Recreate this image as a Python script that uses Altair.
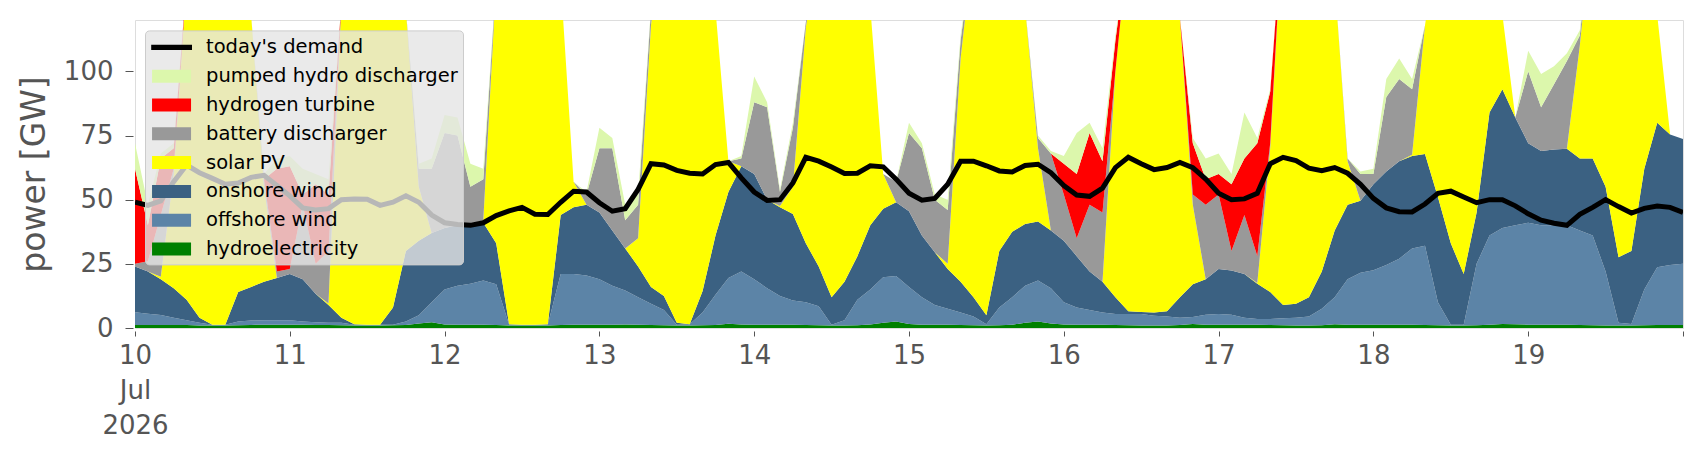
import altair as alt
import pandas as pd

# 2-hourly values, Jul 10 00:00 ... Jul 20 00:00 (121 points), GW
hydro = [
    1.2, 1.2, 1.2, 1.2, 1.2, 1.0, 1.0, 1.0, 1.1, 1.2, 1.3, 1.3,
    1.3, 1.3, 1.2, 1.2, 1.1, 1.0, 1.0, 1.0, 1.1, 1.2, 1.8, 2.2,
    1.4, 1.3, 1.3, 1.3, 1.2, 1.0, 1.0, 1.0, 1.0, 1.2, 1.3, 1.3,
    1.3, 1.3, 1.4, 1.3, 1.2, 1.1, 1.0, 1.0, 1.1, 1.2, 1.7, 1.4,
    1.3, 1.3, 1.3, 1.3, 1.2, 1.1, 1.0, 1.0, 1.1, 1.4, 2.0, 2.5,
    1.6, 1.3, 1.3, 1.3, 1.2, 1.1, 1.0, 1.1, 1.3, 2.0, 2.5, 1.8,
    1.4, 1.3, 1.3, 1.3, 1.2, 1.1, 1.0, 1.0, 1.0, 1.2, 1.6, 1.3,
    1.3, 1.3, 1.3, 1.3, 1.2, 1.1, 1.0, 1.0, 1.1, 1.5, 1.3, 1.3,
    1.3, 1.3, 1.3, 1.3, 1.2, 1.1, 1.0, 1.0, 1.1, 1.3, 1.6, 1.5,
    1.3, 1.3, 1.3, 1.3, 1.2, 1.1, 1.0, 1.0, 1.0, 1.1, 1.2, 1.2,
    1.2,
]
offshore = [
    4.9, 4.4, 3.9, 2.8, 1.8, 1.0, 0.3, 0.3, 1.4, 1.7, 1.7, 1.7,
    1.7, 1.2, 1.0, 0.8, 0.9, 0.3, 0.3, 0.3, 0.2, 1.3, 3.2, 7.8,
    13.6, 15.2, 15.9, 17.2, 15.8, 0.3, 0.3, 0.3, 0.3, 19.8, 19.7, 19.2,
    17.7, 15.2, 13.2, 10.7, 8.2, 5.9, 0.3, 0.5, 4.9, 11.8, 17.8, 20.6,
    17.7, 14.2, 11.2, 9.4, 8.8, 7.4, 0.3, 2.0, 9.9, 13.6, 17.8, 17.8,
    14.4, 10.7, 7.7, 6.2, 4.8, 3.4, 0.5, 6.9, 10.7, 14.5, 16.0, 13.7,
    8.6, 6.7, 5.7, 4.7, 4.3, 4.4, 4.5, 3.8, 3.5, 2.8, 2.7, 3.9,
    4.2, 3.9, 2.7, 2.2, 2.3, 2.7, 3.0, 3.5, 6.4, 10.5, 17.7, 20.2,
    21.2, 23.2, 25.7, 29.7, 30.8, 8.9, 0.3, 0.3, 23.9, 34.7, 37.4, 38.5,
    39.7, 38.7, 38.7, 38.7, 36.8, 34.9, 21.0, 1.0, 0.6, 13.9, 22.5, 23.3,
    23.8,
]
onshore = [
    17.9, 16.4, 13.9, 11.5, 8.0, 2.0, 0.0, 0.0, 11.5, 13.1, 15.0, 16.5,
    18.0, 16.5, 11.1, 7.0, 2.0, 0.2, 0.0, 0.0, 6.7, 27.5, 29.0, 27.0,
    24.0, 23.5, 23.3, 22.5, 16.0, 0.2, 0.0, 0.0, 0.2, 23.0, 26.0, 27.5,
    26.0, 21.5, 16.4, 12.0, 6.6, 5.5, 0.7, 0.0, 8.4, 23.0, 33.5, 41.0,
    41.0, 34.5, 34.5, 33.7, 23.0, 15.5, 10.7, 15.0, 17.0, 25.0, 26.7, 28.7,
    29.5, 24.0, 20.5, 15.5, 12.0, 7.5, 3.5, 22.0, 25.5, 24.0, 23.0, 22.5,
    24.0, 20.0, 15.0, 12.0, 6.5, 1.0, 0.7, 1.2, 2.0, 8.0, 12.7, 13.8,
    17.5, 17.2, 17.0, 13.7, 10.5, 5.2, 5.4, 7.5, 14.5, 26.0, 29.0, 28.1,
    33.5, 36.5, 38.0, 36.0, 35.8, 41.0, 31.7, 19.7, 20.0, 48.0, 54.0, 42.0,
    31.0, 29.0, 29.5, 29.8, 28.0, 30.0, 33.0, 25.6, 28.4, 47.0, 56.3, 50.9,
    48.6,
]
solar = [
    0, 0, 1, 44.5, 124, 186, 198.7, 193.7, 156, 106, 37, 0,
    0, 0, 0, 0.5, 123, 188.5, 198.7, 188.7, 152, 94, 21, 0,
    0, 0, 0, 1, 102, 188.5, 198.7, 193.7, 168.5, 91, 10, 0,
    0, 0, 0, 11, 102, 152.5, 183, 188.5, 160.6, 88, 12, 0,
    0, 0, 0.5, 10.6, 84, 126, 158, 157, 137, 85, 13.5, 0,
    0, 0, 0, 2, 87, 138, 170, 150, 132.5, 84.5, 28.5, 0,
    0, 0, 0, 0, 88, 143.5, 168.8, 169, 143.5, 109, 31, 0,
    0, 0, 0, 0.3, 56, 151, 165.6, 163, 138, 97, 17, 0,
    0, 0, 0, 0.5, 50.2, 99, 132, 144, 105, 56, 29, 0,
    0, 0, 0, 0, 44, 94, 120, 147.4, 140, 88, 42, 0,
    0,
]
battery = [
    1, 4, 24, 2, 0, 0, 0, 0, 0, 0, 3, 2.5,
    2, 29, 11.7, 20.5, 0, 0, 0, 0, 0, 0, 7, 25,
    37, 35, 14.5, 16, 0, 0, 0, 0, 0, 0, 0, 4,
    25, 32, 11, 13, 6, 0, 0, 0, 0, 0, 0, 3,
    28, 36, 5.5, 23, 2, 0, 0, 0, 0, 0, 0, 8,
    30.5, 34, 20.5, 21, 7, 0, 0, 0, 0, 0, 4, 30,
    18, 7, 26, 27, 0, 0, 0, 0, 0, 0, 4, 29,
    29, 7.6, 23, 10.5, 2, 0, 0, 0, 0, 0, 1, 10.4,
    4, 29, 32, 25.5, 0, 0, 0, 0, 0, 0, 0, 0,
    28, 17, 25.5, 34.2, 4, 0, 0, 0, 0, 0, 0, 0,
    0,
]
hydrogen = [
    37, 14, 22, 8, 0, 0, 0, 0, 0, 0, 0, 40,
    40, 4, 31, 22, 0, 0, 0, 0, 0, 0, 0, 0,
    0, 0, 0, 0, 0, 0, 0, 0, 0, 0, 0, 0,
    0, 0, 0, 0, 0, 0, 0, 0, 0, 0, 0, 0,
    0, 0, 0, 0, 0, 0, 0, 0, 0, 0, 0, 0,
    0, 0, 0, 0, 0, 0, 0, 0, 0, 0, 0, 0,
    12, 25, 28, 20, 12, 0, 0, 0, 0, 0, 20, 10,
    8, 26, 22, 44, 20, 0, 0, 0, 0, 0, 0, 0,
    0, 0, 0, 0, 0, 0, 0, 0, 0, 0, 0, 0,
    0, 0, 0, 0, 0, 0, 0, 0, 0, 0, 0, 0,
    0,
]
pumped_hydro = [
    10, 8, 2, 2, 0, 0, 0, 0, 0, 0, 2, 4,
    4, 10, 4, 6, 0, 0, 0, 0, 0, 0, 2, 4,
    7, 7, 9, 4, 0, 0, 0, 0, 0, 0, 0, 1,
    8, 4, 6, 4, 1, 0, 0, 0, 0, 0, 0, 1,
    10, 2, 1, 2, 0, 0, 0, 0, 0, 0, 0, 0,
    4, 2, 2, 4, 2, 0, 0, 0, 0, 0, 1, 1,
    3, 16, 4, 5, 2, 0, 0, 0, 0, 0, 2, 8,
    8, 4, 18, 2, 1, 0, 0, 0, 0, 0, 0, 1,
    2, 7, 8, 4, 0, 0, 0, 0, 0, 0, 0, 0,
    8, 13, 7, 3, 2, 0, 0, 0, 0, 0, 0, 0,
    0,
]
demand = [
    49, 47.8, 49.5, 57, 63.5, 60.5, 58.3, 56, 56.5, 58.7, 59.5, 55.5,
    51.5, 46.8, 46, 46.5, 50, 50.3, 50.2, 47.8, 49, 51.5, 49, 44,
    41, 40.3, 40, 41, 43.8, 45.6, 47, 44.3, 44.2, 49, 53.3, 53,
    48.8, 45.5, 46.5, 54, 64, 63.5, 61.4, 60.3, 60, 63.7, 64.5, 58.5,
    53, 49.7, 50, 56.5, 66.5, 65, 62.7, 60.2, 60.3, 63.2, 62.8, 58,
    52.5, 49.8, 50.5, 56, 65, 65, 63.2, 61.2, 60.8, 63.3, 63.8, 60.5,
    55.5, 51.8, 51.3, 54.5, 62.5, 66.5, 64, 61.7, 62.5, 64.5, 62.5, 58,
    52.5, 50, 50.3, 52.5, 64, 66.5, 65.2, 62.3, 61.3, 62.5, 60.3, 56,
    50.5, 46.8, 45.3, 45.2, 48.3, 52.5, 53.3, 51, 48.8, 50, 50, 47.6,
    44.5, 42, 40.8, 40, 44.3, 47, 50, 47.3, 44.8, 46.6, 47.5, 47,
    45,
]

stack_names = ["hydroelectricity", "offshore wind", "onshore wind", "solar PV",
               "battery discharger", "hydrogen turbine", "pumped hydro discharger"]
stack_colors = ["#008000", "#5c84a7", "#3b6182", "#ffff00",
                "#999999", "#ff0000", "#dcf7ac"]
legend_names = ["today's demand"] + stack_names[::-1]
legend_colors = ["#000000"] + stack_colors[::-1]
LINE_PATH = "M-0.9,-0.22H2.5V0.22H-0.9Z"
RECT_PATH = "M-0.83,-0.54H2.42V0.54H-0.83Z"
legend_shapes = [LINE_PATH] + [RECT_PATH] * len(stack_names)

series_values = [hydro, offshore, onshore, solar, battery, hydrogen, pumped_hydro]
for s in series_values:
    assert len(s) == len(demand)

times = pd.date_range("2026-07-10 00:00", periods=len(demand), freq="2h")
frames = []
for k, (name, vals) in enumerate(zip(stack_names, series_values)):
    frames.append(pd.DataFrame({"time": times, "value": vals, "series": name, "order": k}))
area_df = pd.concat(frames, ignore_index=True)
demand_df = pd.DataFrame({"time": times, "value": demand})
legend_df = pd.DataFrame({"time": [times[0]] * len(legend_names),
                          "value": [0] * len(legend_names),
                          "series": legend_names})

GRAY = "#555555"
day_ticks = [alt.DateTime(year=2026, month=7, date=d) for d in range(10, 21)]
x_scale = alt.Scale(domain=[alt.DateTime(year=2026, month=7, date=10),
                            alt.DateTime(year=2026, month=7, date=20)])
x_axis = alt.Axis(
    values=day_ticks,
    labelExpr="date(datum.value) == 10 ? ['10', 'Jul', '2026'] : (date(datum.value) == 20 ? '' : timeFormat(datum.value, '%d'))",
    grid=False, domain=False, tickSize=5, tickColor=GRAY, labelColor=GRAY,
    labelFontSize=26, labelPadding=6, offset=3, labelFlush=False,
    labelLineHeight=35, labelOverlap=False, title=None,
)
y_scale = alt.Scale(domain=[0, 120], nice=False)
y_axis = alt.Axis(
    values=[0, 25, 50, 75, 100], grid=False, domain=False, tickSize=8,
    tickColor=GRAY, labelColor=GRAY, labelFontSize=26, labelPadding=12, offset=2,
    title="power [GW]", titleFontSize=33, titleColor=GRAY, titleFontWeight="normal",
    titlePadding=12,
)

x_enc = alt.X("time:T", scale=x_scale, axis=x_axis, title=None)
y_plain = alt.Y("value:Q", scale=y_scale, axis=y_axis, title="power [GW]")

areas = alt.Chart(area_df).mark_area(clip=True, interpolate="linear").encode(
    x=x_enc,
    y=alt.Y("value:Q", stack="zero", scale=y_scale, axis=y_axis, title="power [GW]"),
    color=alt.Color("series:N", scale=alt.Scale(domain=stack_names, range=stack_colors), legend=None),
    order=alt.Order("order:Q", sort="ascending"),
)

line = alt.Chart(demand_df).mark_line(clip=True, color="black", strokeWidth=5).encode(
    x=x_enc, y=y_plain,
)

legend = alt.Legend(
    title=None, orient="none", legendX=10, legendY=10.4,
    fillColor="rgba(229,229,229,0.8)", strokeColor="#cccccc", cornerRadius=4,
    padding=5, rowPadding=6.8, symbolSize=576, symbolOpacity=1, symbolStrokeWidth=0,
    labelFontSize=19.5, labelColor="#000000", labelOffset=32, labelLimit=500,
)
legend_layer = alt.Chart(legend_df).mark_point(filled=True, opacity=0, size=1).encode(
    x=x_enc, y=y_plain,
    color=alt.Color("series:N", scale=alt.Scale(domain=legend_names, range=legend_colors), legend=legend),
    shape=alt.Shape("series:N", scale=alt.Scale(domain=legend_names, range=legend_shapes), legend=legend),
)

chart = (
    alt.layer(areas, line, legend_layer)
    .resolve_scale(color="independent", shape="independent")
    .properties(width=1548, height=308,
                padding={"left": 10, "top": 12, "right": 5, "bottom": 5})
    .configure_view(stroke=None)
    .configure(font="DejaVu Sans")
)

chart.save("out.html", embed_options={"renderer": "svg", "actions": False})
